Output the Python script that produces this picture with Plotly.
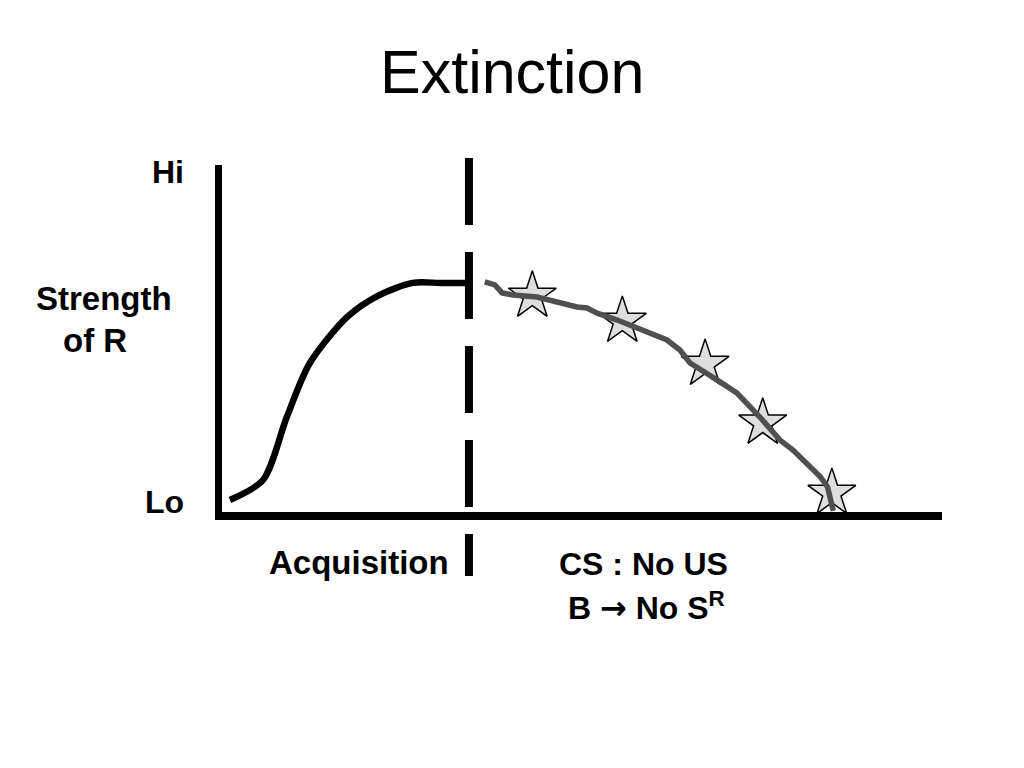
import plotly.graph_objects as go

# ---- data (x: session progress 0-100, y: strength of response) ----
acq_x = [1.1, 5.7, 9.0, 12.2, 17.4, 21.9, 26.5, 30.3, 34.0]
acq_y = [3.5, 9.3, 27.6, 43.3, 56.7, 63.1, 66.6, 66.6, 66.6]

ext_x = [36.5, 37.9, 38.9, 40.4, 43.75, 46.9, 49.3, 50.7, 52.1, 54.9, 59.0, 61.8,
         63.6, 65.0, 68.75, 71.5, 74.7, 77.5, 79.3, 81.25, 83.1, 84.1, 84.7, 84.9]
ext_y = [66.9, 66.0, 63.7, 63.1, 62.5, 60.8, 59.6, 59.3, 57.8, 55.8, 52.3, 50.0,
         47.1, 43.3, 38.4, 34.6, 27.6, 20.9, 18.0, 14.2, 10.2, 7.3, 2.6, 0.3]

star_x = [43.1, 55.6, 67.1, 75.1, 84.7]
star_y = [62.8, 55.5, 43.0, 25.9, 5.5]

phase_boundary = 34.3

title_text = "Extinction"
y_hi, y_lo = "Hi", "Lo"
y_label_1, y_label_2 = "Strength", "of R"
phase1_label = "Acquisition"
phase2_line1 = "CS : No US"
phase2_line2 = ("B <span style=\"font-family:'DejaVu Sans'\">\u2192</span> "
                "No S<sup>R</sup>")

FONT = "Liberation Sans, Arial, Helvetica, sans-serif"

fig = go.Figure()

fig.add_trace(go.Scatter(
    x=acq_x, y=acq_y, mode="lines",
    line=dict(color="black", width=6.5, shape="spline", smoothing=0.8),
    hoverinfo="skip", showlegend=False))

fig.add_trace(go.Scatter(
    x=star_x, y=star_y, mode="markers",
    marker=dict(symbol="star", size=36, color="#dedede",
                line=dict(color="black", width=1.5)),
    hoverinfo="skip", showlegend=False))

fig.add_trace(go.Scatter(
    x=ext_x, y=ext_y, mode="lines",
    line=dict(color="#505050", width=5.5),
    hoverinfo="skip", showlegend=False))

# dashed phase boundary
fig.add_shape(type="line", xref="x", yref="paper",
              x0=phase_boundary, x1=phase_boundary, y0=1.0202, y1=-0.1844,
              line=dict(color="black", width=8, dash="67px,27px"))

# page body has an 8px margin: figure is sized to fit and offset accordingly
OFF = 8
W, H = 1024 - 2 * OFF, 768 - 2 * OFF
L, T = 222 - OFF, 165 - OFF
R = W - (942 - OFF)
B = H - (512 - OFF)
pw, ph = W - L - R, H - T - B


def px(xs):
    return (xs - OFF - L) / pw


def py(ys):
    return (H - B - (ys - OFF)) / ph


def bold(size):
    return dict(family=FONT, size=size, color="black")


def ann(text, x, y, xanchor, font, yanchor="middle"):
    fig.add_annotation(text=text, xref="paper", yref="paper", x=x, y=y,
                       xanchor=xanchor, yanchor=yanchor, showarrow=False,
                       font=font)


ann("<b>%s</b>" % y_hi, px(186), py(172), "right", bold(32))
ann("<b>%s</b>" % y_lo, px(186), py(502), "right", bold(32))
ann("<b>%s</b>" % y_label_1, px(103.5), py(298), "center", bold(33))
ann("<b>%s</b>" % y_label_2, px(95), py(340), "center", bold(33))
ann("<b>%s</b>" % phase1_label, px(451), py(562), "right", bold(33))
ann("<b>%s</b>" % phase2_line1, px(557), py(564), "left", bold(32))
ann("<b>%s</b>" % phase2_line2, px(566), py(606), "left", bold(32))
ann(title_text, px(512), py(72), "center",
    dict(family=FONT, size=61, color="black"))

fig.update_layout(
    width=W, height=H,
    margin=dict(l=L, r=R, t=T, b=B, pad=0),
    paper_bgcolor="white", plot_bgcolor="white",
    xaxis=dict(range=[0, 100], showgrid=False, zeroline=False,
               showticklabels=False, ticks="", showline=True,
               linecolor="black", linewidth=7.5, fixedrange=True),
    yaxis=dict(range=[0, 100.87], showgrid=False, zeroline=False,
               showticklabels=False, ticks="", showline=True,
               linecolor="black", linewidth=6.5, fixedrange=True),
)

fig.write_html("out.html")
